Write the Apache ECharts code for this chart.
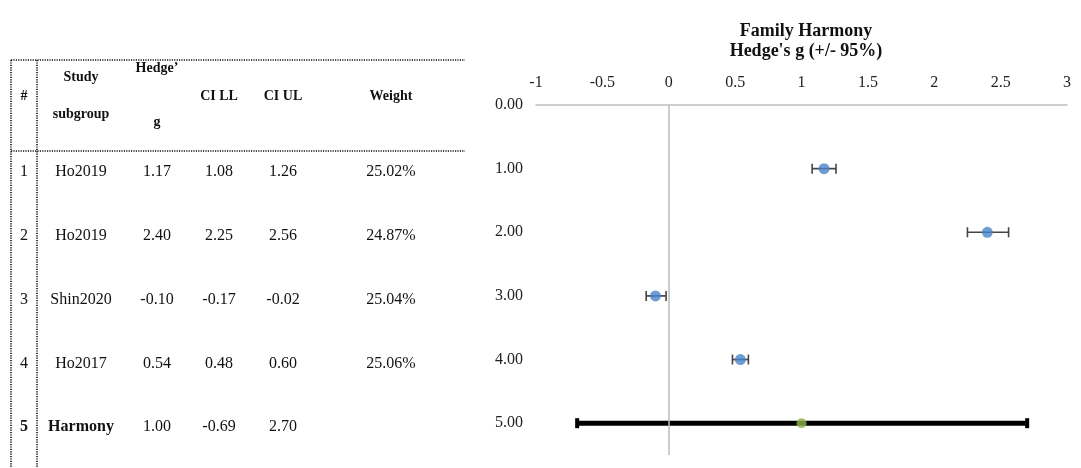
<!DOCTYPE html>
<html>
<head>
<meta charset="utf-8">
<script src="https://cdn.jsdelivr.net/npm/echarts@6/dist/echarts.min.js"></script>
<style>
  html, body { margin: 0; padding: 0; background: #fff; }
  #chart { width: 1081px; height: 468px; }
</style>
</head>
<body>
<div id="chart"></div>
<script>
// Study table and forest plot data
const rowIds   = [1, 2, 3, 4, 5];
const studies  = ['Ho2019', 'Ho2019', 'Shin2020', 'Ho2017', 'Harmony'];
const hedgesG  = [1.17, 2.40, -0.10, 0.54, 1.00];
const ciLower  = [1.08, 2.25, -0.17, 0.48, -0.69];
const ciUpper  = [1.26, 2.56, -0.02, 0.60, 2.70];
const weights  = ['25.02%', '24.87%', '25.04%', '25.06%', ''];
const pooledIndex = 4;   // last row is the pooled estimate

const SERIF = '"Liberation Serif", "DejaVu Serif", serif';

// ---- table drawn as graphic elements ----
const colX = { id: 24, study: 81, g: 157, lo: 219, hi: 283, w: 391 };
const firstRowY = 172, rowStep = 63.8;
const tableLeft = 11, tableInner = 37, tableRight = 465, tableTop = 60, headerBottom = 151, tableBottom = 468;

function txt(text, x, y, bold) {
  return {
    type: 'text', silent: true,
    style: {
      text: text, x: x, y: y,
      textAlign: 'center', textVerticalAlign: 'middle',
      font: (bold ? 'bold 14px ' : '16px ') + SERIF,
      fill: '#111'
    }
  };
}
function dotted(x1, y1, x2, y2) {
  return {
    type: 'line', silent: true,
    shape: { x1: x1, y1: y1, x2: x2, y2: y2 },
    style: { stroke: '#111', lineWidth: 1.6, lineDash: [1.2, 1.2] }
  };
}

const graphics = [
  dotted(tableLeft, tableTop, tableRight, tableTop),
  dotted(tableLeft, headerBottom, tableRight, headerBottom),
  dotted(tableLeft, tableTop, tableLeft, tableBottom),
  dotted(tableInner, tableTop, tableInner, tableBottom),
  txt('#', colX.id, 96, true),
  txt('Study', colX.study, 77, true),
  txt('subgroup', colX.study, 114, true),
  txt('Hedge\u2019', colX.g, 68, true),
  txt('g', colX.g, 122, true),
  txt('CI LL', colX.lo, 96, true),
  txt('CI UL', colX.hi, 96, true),
  txt('Weight', colX.w, 96, true)
];
rowIds.forEach(function (id, i) {
  const y = firstRowY + i * rowStep;
  const pooled = i === pooledIndex;
  const bodyTxt = function (t, x, bold) {
    const e = txt(t, x, y, bold);
    e.style.font = (bold ? 'bold 16px ' : '16px ') + SERIF;
    return e;
  };
  graphics.push(bodyTxt(String(id), colX.id, pooled));
  graphics.push(bodyTxt(studies[i], colX.study, pooled));
  graphics.push(bodyTxt(hedgesG[i].toFixed(2), colX.g, false));
  graphics.push(bodyTxt(ciLower[i].toFixed(2), colX.lo, false));
  graphics.push(bodyTxt(ciUpper[i].toFixed(2), colX.hi, false));
  if (weights[i]) graphics.push(bodyTxt(weights[i], colX.w, false));
});

// ---- forest plot series data ----
const studyRows = [], pooledRows = [], studyPts = [], pooledPts = [];
rowIds.forEach(function (id, i) {
  const row = [hedgesG[i], ciLower[i], ciUpper[i], id];
  if (i === pooledIndex) { pooledRows.push(row); pooledPts.push([hedgesG[i], id]); }
  else { studyRows.push(row); studyPts.push([hedgesG[i], id]); }
});

function errorBar(color, width, capH, capW) {
  return function (params, api) {
    const y = api.value(3);
    const a = api.coord([api.value(1), y]);
    const b = api.coord([api.value(2), y]);
    const children = [
      { type: 'line', shape: { x1: a[0], y1: a[1], x2: b[0], y2: b[1] },
        style: { stroke: color, lineWidth: width } }
    ];
    [a, b].forEach(function (p) {
      if (capW > 0) {
        children.push({ type: 'rect',
          shape: { x: p[0] - capW / 2, y: p[1] - capH / 2, width: capW, height: capH },
          style: { fill: color } });
      } else {
        children.push({ type: 'line',
          shape: { x1: p[0], y1: p[1] - capH / 2, x2: p[0], y2: p[1] + capH / 2 },
          style: { stroke: color, lineWidth: 1.6 } });
      }
    });
    return { type: 'group', children: children };
  };
}

const chart = echarts.init(document.getElementById('chart'));
chart.setOption({
  backgroundColor: '#fff',
  animation: false,
  title: {
    text: 'Family Harmony\nHedge\'s g (+/- 95%)',
    left: 801, top: 16, textAlign: 'center',
    textStyle: { fontFamily: SERIF, fontWeight: 'bold', fontSize: 18, lineHeight: 20, color: '#111' }
  },
  graphic: graphics,
  grid: { left: 536, right: 14, top: 105, height: 350 },
  xAxis: {
    type: 'value', position: 'top', min: -1, max: 3, interval: 0.5,
    axisLine: { show: true, onZero: false, lineStyle: { color: '#bdbdbd', width: 1.5 } },
    axisTick: { show: false },
    splitLine: { show: false },
    axisLabel: { fontFamily: SERIF, fontSize: 16, color: '#222', margin: 14 }
  },
  yAxis: {
    type: 'value', inverse: true, min: 0, max: 5.5, interval: 1,
    axisLine: { show: false },
    axisTick: { show: false },
    splitLine: { show: false },
    axisLabel: {
      fontFamily: SERIF, fontSize: 16, color: '#222', margin: 13,
      formatter: function (v) { return Number.isInteger(v) ? v.toFixed(2) : ''; }
    }
  },
  series: [
    {
      type: 'custom', name: 'studyCI', data: studyRows, z: 2,
      renderItem: errorBar('#444', 1.7, 10, 0),
      markLine: {
        silent: true, symbol: 'none', label: { show: false },
        lineStyle: { color: '#bdbdbd', width: 1.5, type: 'solid' },
        data: [{ xAxis: 0 }]
      }
    },
    {
      type: 'custom', name: 'pooledCI', data: pooledRows, z: 2,
      renderItem: errorBar('#000', 5, 10, 4)
    },
    {
      type: 'scatter', name: 'study', data: studyPts, z: 3,
      symbol: 'circle', symbolSize: 11,
      itemStyle: { color: '#4a84cc' }
    },
    {
      type: 'scatter', name: 'pooled', data: pooledPts, z: 3,
      symbol: 'circle', symbolSize: 10,
      itemStyle: { color: '#8db548' }
    }
  ]
});
</script>
</body>
</html>
